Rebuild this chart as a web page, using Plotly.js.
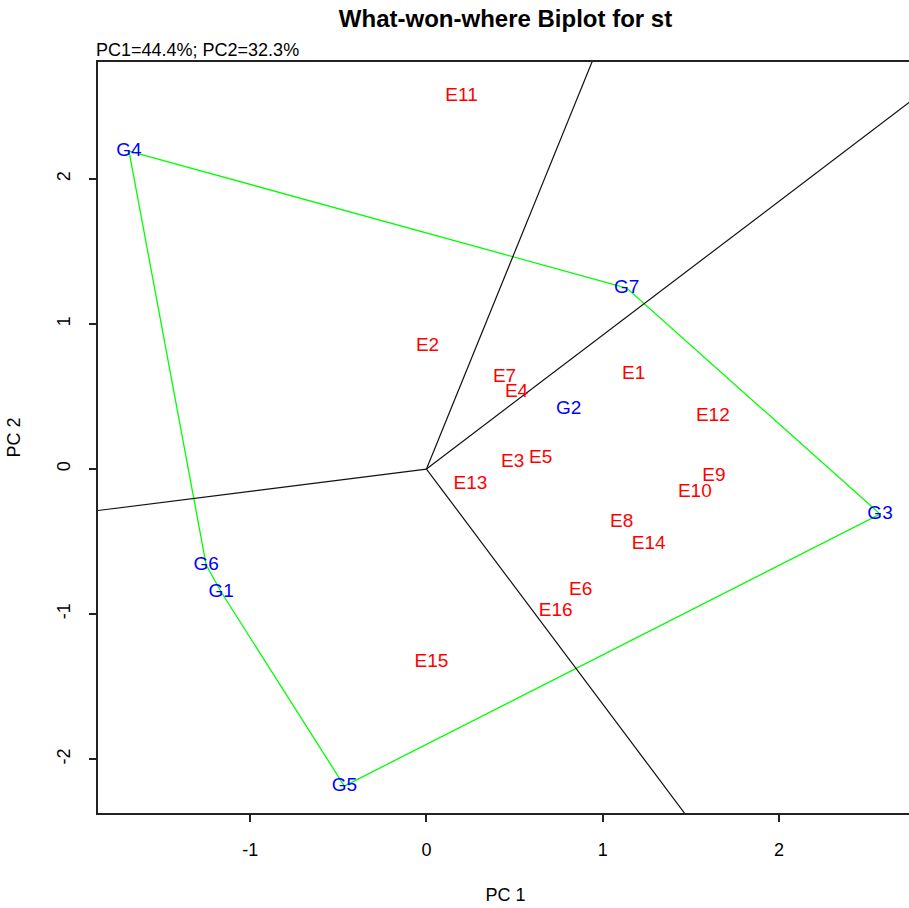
<!DOCTYPE html>
<html>
<head>
<meta charset="utf-8">
<script src="https://cdn.plot.ly/plotly-3.0.1.min.js"></script>
<style>
html,body{margin:0;padding:0;overflow:hidden;background:#fff;}
#chart{width:913px;height:908px;}
</style>
</head>
<body>
<div id="chart"></div>
<script>
// Genotypes (PC1, PC2)
var genoNames = ['G1','G2','G3','G4','G5','G6','G7'];
var genoPC1   = [-1.165, 0.807, 2.574, -1.688, -0.466, -1.250, 1.136];
var genoPC2   = [-0.848, 0.414, -0.310, 2.193, -2.186, -0.662, 1.248];

// Environments (PC1, PC2)
var envNames = ['E1','E2','E3','E4','E5','E6','E7','E8','E9','E10','E11','E12','E13','E14','E15','E16'];
var envPC1   = [1.176, 0.006, 0.489, 0.511, 0.648, 0.875, 0.443, 1.108, 1.631, 1.523, 0.199, 1.625, 0.250, 1.261, 0.028, 0.733];
var envPC2   = [0.655, 0.848, 0.048, 0.531, 0.076, -0.834, 0.634, -0.366, -0.048, -0.159, 2.572, 0.366, -0.103, -0.517, -1.331, -0.979];

// Convex hull order (polygon of vertex genotypes)
var hullOrder = ['G4','G7','G3','G5','G1','G6'];
// Hull edges whose perpendicular rays from the origin are drawn
var rayEdges = [['G4','G7'],['G7','G3'],['G3','G5'],['G6','G4']];

var titleText = 'What-won-where Biplot for st';
var subtitleText = 'PC1=44.4%; PC2=32.3%';
var xTitle = 'PC 1';
var yTitle = 'PC 2';
var xTicks = [-1, 0, 1, 2];
var yTicks = [-2, -1, 0, 1, 2];

function gpos(name){
  var i = genoNames.indexOf(name);
  return [genoPC1[i], genoPC2[i]];
}

var hx = [], hy = [];
hullOrder.concat([hullOrder[0]]).forEach(function(n){
  var p = gpos(n); hx.push(p[0]); hy.push(p[1]);
});

var traces = [];
traces.push({
  x: hx, y: hy, mode: 'lines', type: 'scatter',
  line: {color: '#00FF00', width: 1.3}, hoverinfo: 'skip', showlegend: false
});

rayEdges.forEach(function(e){
  var a = gpos(e[0]), b = gpos(e[1]);
  var dx = b[0]-a[0], dy = b[1]-a[1];
  var nx = -dy, ny = dx;
  if (nx*a[0] + ny*a[1] < 0) { nx = -nx; ny = -ny; }
  var len = Math.sqrt(nx*nx+ny*ny);
  nx /= len; ny /= len;
  traces.push({
    x: [0, nx*20], y: [0, ny*20], mode: 'lines', type: 'scatter',
    line: {color: '#111111', width: 1.2}, hoverinfo: 'skip', showlegend: false
  });
});

var fam = 'Liberation Sans, Arial, sans-serif';

traces.push({
  x: envPC1, y: envPC2, text: envNames, mode: 'text', type: 'scatter',
  textposition: 'middle center', cliponaxis: false,
  textfont: {family: fam, size: 19, color: '#FF0000'},
  showlegend: false
});
traces.push({
  x: genoPC1, y: genoPC2, text: genoNames, mode: 'text', type: 'scatter',
  textposition: 'middle center', cliponaxis: false,
  textfont: {family: fam, size: 19, color: '#0000FF'},
  showlegend: false
});

var axisFont = {family: fam, size: 18, color: '#000'};

var layout = {
  width: 913, height: 908,
  margin: {l: 98, r: 0, t: 62, b: 95},
  paper_bgcolor: '#fff', plot_bgcolor: '#fff',
  title: {
    text: '<b>' + titleText + '</b>',
    font: {family: fam, size: 24, color: '#000'},
    x: 0.5, xref: 'paper', y: 0.980, yref: 'container', yanchor: 'middle'
  },
  xaxis: {
    range: [-1.864, 2.761], tickvals: xTicks, ticktext: xTicks.map(String),
    showgrid: false, zeroline: false, showline: true, mirror: true,
    linecolor: '#222', linewidth: 2, ticks: 'outside', ticklen: 7, tickwidth: 2, tickcolor: '#222',
    tickfont: axisFont, ticklabelstandoff: 12,
    title: {text: xTitle, font: axisFont, standoff: 30}
  },
  yaxis: {
    range: [-2.372, 2.807], tickvals: yTicks, ticktext: yTicks.map(String),
    showgrid: false, zeroline: false, showline: true, mirror: true,
    linecolor: '#222', linewidth: 2, ticks: 'outside', ticklen: 7, tickwidth: 2, tickcolor: '#222',
    tickangle: -90, tickfont: axisFont, ticklabelstandoff: 12,
    title: {text: yTitle, font: axisFont, standoff: 28}
  },
  annotations: [{
    text: subtitleText, xref: 'paper', yref: 'paper', x: 0, y: 1,
    xanchor: 'left', yanchor: 'bottom', yshift: 0, xshift: -4, showarrow: false,
    font: {family: fam, size: 18, color: '#000'}
  }]
};

Plotly.newPlot('chart', traces, layout, {displayModeBar: false, staticPlot: true});
</script>
</body>
</html>
